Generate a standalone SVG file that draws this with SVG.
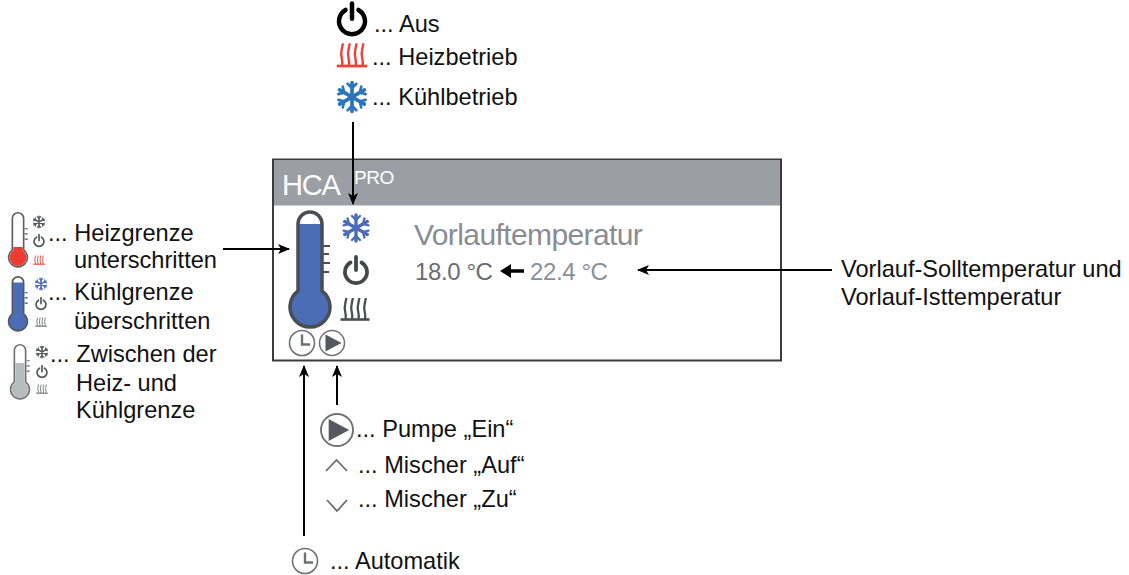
<svg xmlns="http://www.w3.org/2000/svg" width="1129" height="575" viewBox="0 0 1129 575">
<style>
text{font-family:"Liberation Sans",Arial,sans-serif;font-size:23.6px;fill:#111}
.conn{stroke:#000;stroke-width:2;fill:none;marker-end:url(#ah)}
</style>
<defs>
<marker id="ah" markerUnits="userSpaceOnUse" markerWidth="12" markerHeight="10" refX="11" refY="5" orient="auto"><path d="M0 0L12 5L0 10L3 5Z" fill="#000"/></marker>
<g id="flake" fill="none" stroke-linecap="round">
<path d="M0-13V13M-11.300-6.500L11.300 6.500M-11.300 6.500L11.300-6.500" stroke-width="3.400"/>
<path d="M-4-12L0-8L4-12M-4 12L0 8L4 12M-12.400-2.600L-7-4L-8.400-9.500M12.400 2.600L7 4L8.400 9.500M-12.400 2.600L-7 4L-8.400 9.500M12.400-2.600L7-4L8.400-9.500" stroke-width="2.400"/>
</g>
<g id="power" fill="none" stroke-linecap="round">
<path d="M-5.500-8.500A11 11 0 1 0 5.500-8.500" stroke-width="3.800"/>
<path d="M0-14V-1" stroke-width="3.800"/>
</g>
<g id="heat" fill="none">
<path d="M-9.500 10C-8 5-11.500 1-10-4C-9.500-6-9.500-8-8.500-11M-3 10C-1.500 5-5 1-3.500-4C-3-6-3-8-2-11M3.500 10C5 5 1.500 1 3-4C3.500-6 3.500-8 4.500-11M10 10C11.500 5 8 1 9.500-4C10-6 10-8 11-11" stroke-width="2.300"/>
<path d="M-14.500 10.500H14.500" stroke-width="2.600"/>
</g>
<path id="thermo-outline" d="M-12 36V-31A12 12 0 0 1 12-31V36A20 20 0 1 1-12 36Z"/>
<g id="clock" fill="none" stroke="#6f7175">
<circle r="12.500" stroke-width="1.600"/>
<path d="M0-8.500V1.500H8" stroke-width="2.400"/>
</g>
<g id="play">
<circle r="12.500" fill="#fff" stroke="#6f7175" stroke-width="1.500"/>
<path d="M-6.500-8.500L9.500 0L-6.500 8.500Z" fill="#55585e"/>
</g>
</defs>

<g id="node-display">
<rect x="273" y="159.500" width="508" height="201" fill="#fff" stroke="#3a3c40" stroke-width="2"/>
<rect x="274" y="160.500" width="506" height="45" fill="#9b9ea4"/>
<text x="282" y="195" style="font-size:29px;fill:#fff;letter-spacing:-1.200px">HCA</text>
<text x="354" y="184" style="font-size:19px;fill:#fff;letter-spacing:-.5px">PRO</text>
<g id="display-thermometer" transform="translate(310 255)">
<use href="#thermo-outline" fill="#4a6db5" stroke="#4a4d52" stroke-width="3.500"/>
<path d="M-10.200-31A10.200 10.200 0 0 1 10.200-31Z" fill="#fff"/>
<path d="M13-9H20M13-1H19M13 8H20M13 17H19" stroke="#4a4d52" stroke-width="2.200" fill="none"/>
</g>
<use href="#flake" x="356" y="228" stroke="#4a6db5"/>
<use href="#power" x="356" y="271" stroke="#42474a"/>
<use href="#heat" x="355" y="309" stroke="#4a4d52"/>
<use href="#clock" x="302" y="343"/>
<use href="#play" x="332" y="343"/>
<text x="414" y="245" style="font-size:30px;fill:#8a8c94;letter-spacing:-.6px">Vorlauftemperatur</text>
<text x="415" y="280" style="font-size:24px;fill:#6a6c70;letter-spacing:-.4px">18.0 °C</text>
<text x="530" y="280" style="font-size:24px;fill:#8a8f9c;letter-spacing:-.4px">22.4 °C</text>
<path d="M524 271H508" stroke="#000" stroke-width="3.500"/>
<path d="M500 271L511 264V278Z" fill="#000"/>
</g>

<g id="node-betrieb">
<g transform="translate(352 20) scale(1.180)"><use href="#power" stroke="#000"/></g>
<text x="374" y="32">... Aus</text>
<g transform="translate(352 55) scale(1.050)"><use href="#heat" stroke="#ef4135"/></g>
<text x="372" y="65">... Heizbetrieb</text>
<g transform="translate(352 97) scale(1.100)"><use href="#flake" stroke="#2a75bb"/></g>
<text x="372" y="105">... Kühlbetrieb</text>
</g>

<g id="node-heizgrenze">
<g transform="translate(18 233) scale(.47)">
<use href="#thermo-outline" fill="#fff" stroke="#5c5f63" stroke-width="3.500"/>
<path d="M-10 30V37A18 18 0 1 0 10 37V30Z" fill="#ee3b32"/>
<path d="M14-9H21M14 2H21M14 13H21" stroke="#5c5f63" stroke-width="2.500"/>
</g>
<g transform="translate(39 222) scale(.45)"><use href="#flake" stroke="#55585e"/></g>
<g transform="translate(39 241) scale(.45)"><use href="#power" stroke="#55585e"/></g>
<g transform="translate(39 260) scale(.4)"><use href="#heat" stroke="#ee3b32"/></g>
<text x="48" y="241">... Heizgrenze</text>
<text x="74" y="268">unterschritten</text>
</g>

<g id="node-kuehlgrenze">
<g transform="translate(18 297) scale(.47)">
<use href="#thermo-outline" fill="#4a6db5" stroke="#55585e" stroke-width="3.500"/>
<path d="M-10-31A10 10 0 0 1 10-31Z" fill="#fff"/>
<path d="M14-9H21M14 2H21M14 13H21" stroke="#55585e" stroke-width="2.500"/>
</g>
<g transform="translate(41 284) scale(.45)"><use href="#flake" stroke="#4a6db5"/></g>
<g transform="translate(41 304) scale(.45)"><use href="#power" stroke="#55585e"/></g>
<g transform="translate(41 322) scale(.4)"><use href="#heat" stroke="#6a6d72"/></g>
<text x="48" y="300">... Kühlgrenze</text>
<text x="74" y="329">überschritten</text>
</g>

<g id="node-zwischen">
<g transform="translate(20 365) scale(.47)">
<use href="#thermo-outline" fill="#fff" stroke="#6f7276" stroke-width="3.500"/>
<path d="M-10-4V37A18 18 0 1 0 10 37V-4Z" fill="#b9bcbf"/>
<path d="M14-9H21M14 2H21M14 13H21" stroke="#6f7276" stroke-width="2.500"/>
</g>
<g transform="translate(42 352) scale(.45)"><use href="#flake" stroke="#55585e"/></g>
<g transform="translate(42 372) scale(.45)"><use href="#power" stroke="#55585e"/></g>
<g transform="translate(42 389) scale(.4)"><use href="#heat" stroke="#6a6d72"/></g>
<text x="50" y="362">... Zwischen der</text>
<text x="76" y="391">Heiz- und</text>
<text x="76" y="418">Kühlgrenze</text>
</g>

<g id="node-vorlauf">
<text x="841" y="277">Vorlauf-Solltemperatur und</text>
<text x="841" y="305">Vorlauf-Isttemperatur</text>
</g>

<g id="node-pumpe">
<g transform="translate(337 430) scale(1.280)"><use href="#play"/></g>
<text x="356" y="437">... Pumpe „Ein“</text>
<path d="M326 471L336.500 460L347 471" fill="none" stroke="#6a6c70" stroke-width="1.800"/>
<text x="358" y="473">... Mischer „Auf“</text>
<path d="M327 500L337 511L347 500" fill="none" stroke="#6a6c70" stroke-width="1.800"/>
<text x="358" y="507">... Mischer „Zu“</text>
</g>

<g id="node-automatik">
<use href="#clock" x="305" y="561"/>
<text x="330" y="569">... Automatik</text>
</g>

<g id="connectors">
<path class="conn" d="M353 122V204"/>
<path class="conn" d="M223 249H289"/>
<path class="conn" d="M832 270H638"/>
<path class="conn" d="M337 405V366"/>
<path class="conn" d="M304 536V366"/>
</g>
</svg>
